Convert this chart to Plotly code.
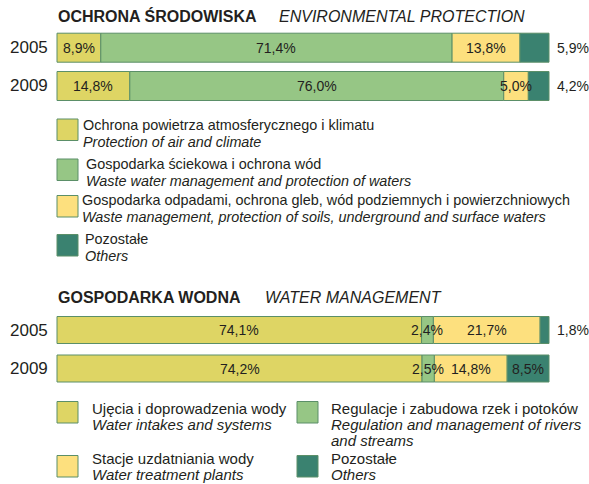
import plotly.graph_objects as go

# ---------------- data ----------------
years = ["2005", "2009"]

env_title_pl = "OCHRONA ŚRODOWISKA"
env_title_en = "ENVIRONMENTAL PROTECTION"
env_series_pl = [
    "Ochrona powietrza atmosferycznego i klimatu",
    "Gospodarka ściekowa i ochrona wód",
    "Gospodarka odpadami, ochrona gleb, wód podziemnych i powierzchniowych",
    "Pozostałe",
]
env_series_en = [
    "Protection of air and climate",
    "Waste water management and protection of waters",
    "Waste management, protection of soils, underground and surface waters",
    "Others",
]
env_air = [8.9, 14.8]
env_wastewater = [71.4, 76.0]
env_waste = [13.8, 5.0]
env_others = [5.9, 4.2]

water_title_pl = "GOSPODARKA WODNA"
water_title_en = "WATER MANAGEMENT"
water_series_pl = [
    "Ujęcia i doprowadzenia wody",
    "Regulacje i zabudowa rzek i potoków",
    "Stacje uzdatniania wody",
    "Pozostałe",
]
water_series_en = [
    "Water intakes and systems",
    "Regulation and management of rivers<br>and streams",
    "Water treatment plants",
    "Others",
]
water_intakes = [74.1, 74.2]
water_rivers = [2.4, 2.5]
water_treatment = [21.7, 14.8]
water_others = [1.8, 8.5]

# ---------------- style / layout ----------------
W, H = 589, 484
BAR_L, BAR_R = 57, 549
PXPER = (BAR_R - BAR_L) / 100.0
colors = ["#ded564", "#96c685", "#fde07e", "#3a8270"]
edge = "#5b8f68"
FONT = "Liberation Sans, Arial, sans-serif"
TXT = "#231f20"

env_rows = [47.7, 86.0]
water_rows = [330.0, 368.5]
env_bar_h = 29
water_bar_h = 27


def px(x):
    return x / W


def py(y):
    return 1 - y / H


fig = go.Figure()
annotations = []
shapes = []


def add_group(series_vals, rows, bw):
    bases = [0.0] * len(rows)
    n = len(series_vals)
    for k, vals in enumerate(series_vals):
        fig.add_trace(go.Bar(
            orientation="h",
            x=vals,
            y=rows,
            base=bases[:],
            width=bw,
            marker=dict(color=colors[k], line=dict(color=edge, width=1)),
            showlegend=False,
            hoverinfo="skip",
        ))
        for i, v in enumerate(vals):
            label = f"{v:.1f}%".replace(".", ",")
            if k == n - 1 and v < 7:
                annotations.append(dict(
                    x=px(BAR_R + 6), y=py(rows[i]), xref="paper", yref="paper",
                    text=label, showarrow=False, xanchor="left", yanchor="middle",
                    font=dict(family=FONT, size=14, color=TXT)))
            else:
                annotations.append(dict(
                    x=bases[i] + v / 2, y=rows[i], xref="x", yref="y",
                    text=label, showarrow=False, xanchor="center", yanchor="middle",
                    font=dict(family=FONT, size=14, color=TXT)))
            bases[i] += v


add_group([env_air, env_wastewater, env_waste, env_others], env_rows, env_bar_h)
add_group([water_intakes, water_rivers, water_treatment, water_others], water_rows, water_bar_h)

# year labels
for rows in (env_rows, water_rows):
    for yr, r in zip(years, rows):
        annotations.append(dict(
            x=px(50), y=py(r), xref="paper", yref="paper", text=yr, showarrow=False,
            xanchor="right", yanchor="middle", font=dict(family=FONT, size=17, color=TXT)))

# titles
for (pl, en, y, xen) in [(env_title_pl, env_title_en, 16, 277), (water_title_pl, water_title_en, 297, 263)]:
    annotations.append(dict(
        x=px(56), y=py(y), xref="paper", yref="paper", text=f"<b>{pl}</b>", showarrow=False,
        xanchor="left", yanchor="middle", font=dict(family=FONT, size=16, color=TXT)))
    annotations.append(dict(
        x=px(xen), y=py(y), xref="paper", yref="paper", text=f"<i>{en}</i>", showarrow=False,
        xanchor="left", yanchor="middle", font=dict(family=FONT, size=16, color=TXT)))


def legend_item(x0, y0, color, pl, en, tx, ty, size, gap):
    shapes.append(dict(type="rect", xref="paper", yref="paper",
                       x0=px(x0), x1=px(x0 + 21), y0=py(y0), y1=py(y0 + 21.5),
                       fillcolor=color, line=dict(color=edge, width=1)))
    annotations.append(dict(
        x=px(tx), y=py(ty), xref="paper", yref="paper", text=pl, showarrow=False,
        xanchor="left", yanchor="middle", font=dict(family=FONT, size=size, color=TXT)))
    for j, part in enumerate(en.split("<br>")):
        annotations.append(dict(
            x=px(tx), y=py(ty + gap * (j + 1)), xref="paper", yref="paper",
            text=f"<i>{part}</i>", showarrow=False,
            xanchor="left", yanchor="middle", font=dict(family=FONT, size=size, color=TXT)))


env_sq_y = [119, 159, 195.5, 234.5]
env_tx = [81, 84, 80, 83]
env_ty = [125.5, 164, 200.5, 239.5]
for k in range(4):
    legend_item(57, env_sq_y[k], colors[k], env_series_pl[k], env_series_en[k],
                env_tx[k], env_ty[k], 14.4, 16.5)

water_pos = [(57, 401.5, 90, 408, 16), (297, 401.5, 329, 408, 16),
             (57, 455.5, 90, 458, 16), (297, 455.5, 329, 458, 16)]
for k in range(4):
    x0, y0, tx, ty, gap = water_pos[k]
    legend_item(x0, y0, colors[k], water_series_pl[k], water_series_en[k], tx, ty, 15, gap)

fig.update_layout(
    width=W, height=H,
    margin=dict(l=0, r=0, t=0, b=0),
    paper_bgcolor="white", plot_bgcolor="white",
    barmode="overlay",
    xaxis=dict(range=[-BAR_L / PXPER, (W - BAR_L) / PXPER], visible=False, fixedrange=True),
    yaxis=dict(range=[H, 0], visible=False, fixedrange=True),
    annotations=annotations,
    shapes=shapes,
    showlegend=False,
)

fig.write_html(
    "out.html",
    config={"displayModeBar": False},
    post_script="document.body.style.margin='0';document.body.style.overflow='hidden';",
)
